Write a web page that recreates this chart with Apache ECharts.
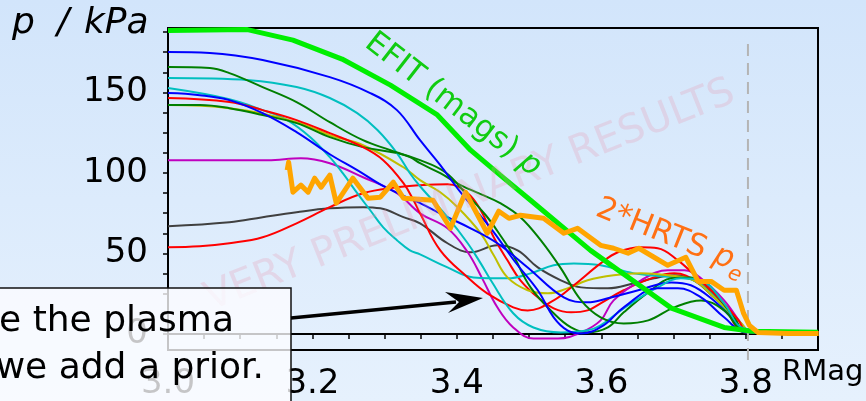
<!DOCTYPE html>
<html lang="en">
<head>
<meta charset="UTF-8">
<title>pressure_profiles</title>
<style>
    html, body { margin: 0; padding: 0; }
    body {
        width: 866px;
        height: 401px;
        overflow: hidden;
        background: linear-gradient(#d2e5fb, #e6f1fd);
    }
    #main { width: 866px; height: 401px; }
</style>
</head>
<body>
<div id="main"></div>
<script src="https://cdn.jsdelivr.net/npm/echarts@6.0.0/dist/echarts.min.js"></script>
<script>
    // axis ticks / labels
    var xTicks = [3.0, 3.05, 3.1, 3.15, 3.2, 3.25, 3.3, 3.35, 3.4, 3.45, 3.5, 3.55, 3.6, 3.65, 3.7, 3.75, 3.8, 3.85]
    var xLabels = [3.0, 3.2, 3.4, 3.6, 3.8]
    var yTicks = [0, 12.5, 25, 37.5, 50, 62.5, 75, 87.5, 100, 112.5, 125, 137.5, 150, 162.5, 175, 187.5]
    var yLabels = [0, 50, 100, 150]
    var separatrix = 3.803

    // EFIT (mags) p  and  2*HRTS pe  (kPa vs RMag)
    var efitP = [[3.0,188.4],[3.11,189.0],[3.173,182.5],[3.241,170.7],[3.308,154.5],[3.373,136.0],[3.419,114.1],[3.46,98.6],[3.502,83.0],[3.585,51.9],[3.697,16.0],[3.77,4.0],[3.808,1.6],[3.9,1.0]]
    var hrtsPe = [[3.165,101.7],[3.167,106.7],[3.173,88.0],[3.184,92.4],[3.194,88.0],[3.203,96.7],[3.212,91.1],[3.224,98.6],[3.233,81.2],[3.256,96.7],[3.277,84.3],[3.294,84.9],[3.312,94.2],[3.326,84.3],[3.367,83.0],[3.391,65.6],[3.412,88.0],[3.442,62.5],[3.458,76.2],[3.472,71.8],[3.488,73.7],[3.52,71.8],[3.548,62.5],[3.567,65.6],[3.599,55.0],[3.617,53.2],[3.637,50.1],[3.652,53.2],[3.673,47.6],[3.692,42.6],[3.717,47.6],[3.734,32.6],[3.752,32.6],[3.77,27.1],[3.787,27.1],[3.797,12.7],[3.805,5.3],[3.817,0.9],[3.859,0.3],[3.901,0.3]]

    // reconstructed profiles
    var blue1 = [[3.0,175.1],[3.058,174.5],[3.131,170.1],[3.224,159.5],[3.28,149.6],[3.317,139.0],[3.349,120.3],[3.377,104.8],[3.405,88.0],[3.447,65.6],[3.481,44.5],[3.512,27.1],[3.534,10.3],[3.553,2.2],[3.572,0.3],[3.603,5.3],[3.631,16.5],[3.678,28.3],[3.706,28.3],[3.738,22.7],[3.77,10.3],[3.801,0.9],[3.9,0.5]]
    var blue2 = [[3.0,149.6],[3.044,148.3],[3.085,145.2],[3.131,137.1],[3.178,125.3],[3.224,111.6],[3.262,101.7],[3.301,91.1],[3.349,81.2],[3.387,72.5],[3.419,65.6],[3.456,56.3],[3.498,41.3],[3.548,22.7],[3.581,19.6],[3.609,22.1],[3.651,27.1],[3.697,32.0],[3.724,30.2],[3.752,22.1],[3.78,10.3],[3.801,1.6],[3.9,0.5]]
    var cyan1 = [[3.0,158.9],[3.113,157.6],[3.178,153.3],[3.224,146.5],[3.262,137.1],[3.29,126.6],[3.317,112.3],[3.335,99.8],[3.349,91.7],[3.387,72.5],[3.415,56.3],[3.433,43.8],[3.447,33.3],[3.478,12.8],[3.506,4.0],[3.544,0.9],[3.581,2.2],[3.599,5.3],[3.631,15.9],[3.678,28.9],[3.71,34.5],[3.738,33.3],[3.77,19.0],[3.798,3.4],[3.9,0.5]]
    var cyan2 = [[3.0,152.7],[3.085,145.8],[3.131,139.0],[3.165,132.8],[3.197,122.2],[3.224,109.8],[3.242,99.8],[3.262,87.4],[3.28,76.8],[3.298,66.2],[3.317,58.2],[3.335,51.9],[3.349,49.4],[3.387,41.3],[3.423,35.1],[3.47,34.5],[3.502,37.6],[3.534,42.6],[3.562,43.8],[3.599,42.6],[3.645,37.6],[3.701,35.1],[3.724,33.9],[3.752,25.2],[3.784,8.4],[3.803,0.9],[3.9,0.5]]
    var green1 = [[3.0,165.7],[3.058,165.1],[3.085,162.0],[3.131,153.3],[3.178,144.0],[3.224,131.5],[3.27,120.3],[3.308,114.1],[3.335,109.8],[3.349,106.0],[3.377,99.8],[3.405,92.4],[3.433,86.8],[3.46,81.2],[3.488,72.5],[3.516,58.2],[3.544,40.7],[3.572,20.8],[3.599,10.3],[3.631,6.5],[3.665,8.4],[3.701,16.5],[3.738,20.8],[3.77,14.6],[3.798,2.2],[3.9,0.5]]
    var green2 = [[3.0,142.1],[3.044,142.1],[3.085,140.2],[3.131,135.9],[3.178,130.9],[3.224,122.2],[3.27,116.0],[3.317,112.3],[3.349,107.9],[3.384,100.4],[3.412,87.4],[3.44,73.7],[3.46,61.3],[3.478,48.8],[3.502,28.9],[3.534,12.8],[3.558,4.0],[3.581,0.9],[3.609,4.0],[3.631,13.4],[3.665,25.8],[3.697,34.5],[3.724,35.1],[3.752,27.1],[3.784,10.3],[3.801,0.9],[3.9,0.5]]
    var olive1 = [[3.0,142.1],[3.085,140.2],[3.178,131.5],[3.224,123.4],[3.27,117.2],[3.326,103.5],[3.349,95.5],[3.377,88.0],[3.401,78.7],[3.433,62.5],[3.451,48.8],[3.47,35.1],[3.498,27.1],[3.526,25.2],[3.553,28.3],[3.581,33.3],[3.617,36.4],[3.655,37.6],[3.692,36.4],[3.728,33.3],[3.756,22.7],[3.794,6.5],[3.808,0.9],[3.9,0.5]]
    var red1 = [[3.0,146.5],[3.085,144.0],[3.131,139.0],[3.178,132.8],[3.224,124.7],[3.27,116.0],[3.298,107.9],[3.326,93.6],[3.34,83.0],[3.349,74.9],[3.377,51.9],[3.415,35.1],[3.442,25.2],[3.478,16.5],[3.498,14.6],[3.534,20.8],[3.562,30.2],[3.599,43.8],[3.623,50.7],[3.655,53.8],[3.678,53.2],[3.706,45.7],[3.734,34.5],[3.762,22.7],[3.79,8.4],[3.803,0.9],[3.9,0.5]]
    var red2 = [[3.0,53.8],[3.044,54.4],[3.085,56.3],[3.131,60.0],[3.178,68.7],[3.224,78.7],[3.27,87.4],[3.317,91.1],[3.349,92.4],[3.387,93.0],[3.415,87.4],[3.433,76.8],[3.451,60.0],[3.47,45.7],[3.488,33.3],[3.512,22.7],[3.534,15.9],[3.558,13.4],[3.581,14.6],[3.599,19.0],[3.631,27.1],[3.669,34.5],[3.701,37.6],[3.734,32.0],[3.766,19.6],[3.801,0.9],[3.9,0.5]]
    var magenta1 = [[3.0,107.9],[3.138,107.9],[3.184,109.1],[3.224,106.0],[3.27,97.3],[3.317,87.4],[3.349,74.9],[3.387,65.6],[3.415,50.7],[3.435,34.5],[3.456,16.5],[3.478,4.0],[3.506,-2.8],[3.54,-2.8],[3.572,0.9],[3.599,8.4],[3.617,20.8],[3.655,33.3],[3.692,39.5],[3.715,39.5],[3.738,34.5],[3.77,20.8],[3.798,4.0],[3.808,0.9],[3.9,0.5]]
    var grey1 = [[3.0,66.9],[3.085,69.3],[3.131,72.5],[3.178,75.6],[3.224,78.0],[3.27,78.7],[3.294,78.0],[3.326,72.5],[3.349,68.7],[3.387,56.3],[3.419,50.7],[3.456,55.0],[3.484,51.9],[3.512,41.3],[3.544,33.3],[3.572,28.9],[3.609,28.3],[3.645,31.4],[3.673,34.5],[3.701,36.4],[3.728,33.3],[3.756,22.7],[3.79,8.4],[3.805,0.9],[3.9,0.5]]

    var font = '"DejaVu Sans", sans-serif'

    function thin(data, color) {
        return {
            type: 'line',
            data: data,
            smooth: 0.4,
            symbol: 'none',
            silent: true,
            lineStyle: { width: 2, color: color }
        }
    }

    var main = echarts.init(document.getElementById('main'))
    var option = {
        animation: false,
        backgroundColor: 'transparent',
        grid: {
            left: 168, right: 48, top: 28, bottom: 51,
            show: true, borderColor: '#000', borderWidth: 2
        },
        xAxis: {
            type: 'value', min: 3.0, max: 3.9,
            axisLine: { lineStyle: { color: '#000', width: 2 } },
            axisTick: { customValues: xTicks, length: 5, lineStyle: { color: '#000', width: 1.5 } },
            axisLabel: {
                customValues: xLabels, margin: 17,
                fontSize: 34, fontFamily: font, color: '#000',
                formatter: function (v) { return v.toFixed(1) }
            },
            splitLine: { show: false }
        },
        yAxis: {
            type: 'value', min: -10, max: 190,
            axisLine: { show: true, lineStyle: { color: '#000', width: 2 } },
            axisTick: { show: true, customValues: yTicks, length: 5, lineStyle: { color: '#000', width: 1.5 } },
            axisLabel: { customValues: yLabels, margin: 20, fontSize: 34, fontFamily: font, color: '#000' },
            splitLine: { show: false }
        },
        series: [
            thin(grey1, '#404040'),
            thin(red2, '#ff0000'),
            thin(magenta1, '#bf00bf'),
            thin(cyan2, '#00bfbf'),
            thin(olive1, '#bfbf00'),
            thin(green2, '#007f00'),
            thin(red1, '#ff0000'),
            thin(blue2, '#0000ff'),
            thin(cyan1, '#00bfbf'),
            thin(green1, '#007f00'),
            thin(blue1, '#0000ff'),
            {
                type: 'line', data: [[separatrix, 180], [separatrix, -18]],
                clip: false, symbol: 'none', silent: true,
                lineStyle: { type: [12, 7], color: '#b4b4b4', width: 2 }
            },
            {
                type: 'line', data: efitP, symbol: 'none', silent: true,
                lineStyle: { width: 5, color: '#00ee00' }
            },
            {
                type: 'line', data: hrtsPe, symbol: 'none', silent: true,
                lineStyle: { width: 5, color: '#ffa500', join: 'round' }
            }
        ],
        graphic: [
            {
                type: 'text', x: 470, y: 196, rotation: 0.379, z: 50, silent: true,
                style: { text: 'VERY PRELIMINARY RESULTS', fill: 'rgba(232,150,172,0.26)', fontSize: 40, fontFamily: font, align: 'center', verticalAlign: 'middle' }
            },
            {
                type: 'text', x: 453, y: 105, rotation: -0.66, z: 60, silent: true,
                style: {
                    text: 'EFIT (mags) {i|p}', fill: '#11cc11', fontSize: 31, fontFamily: font, align: 'center', verticalAlign: 'middle',
                    rich: { i: { fill: '#11cc11', fontSize: 31, fontFamily: font, fontStyle: 'italic' } }
                }
            },
            {
                type: 'text', x: 671, y: 237, rotation: -0.38, z: 60, silent: true,
                style: {
                    text: '2*HRTS {i|p}{s|e}', fill: '#ff7014', fontSize: 31, fontFamily: font, align: 'center', verticalAlign: 'middle',
                    rich: {
                        i: { fill: '#ff7014', fontSize: 31, fontFamily: font, fontStyle: 'italic' },
                        s: { fill: '#ff7014', fontSize: 21, fontFamily: font, fontStyle: 'italic', verticalAlign: 'bottom', lineHeight: 44 }
                    }
                }
            },
            { type: 'text', x: 12, y: 24, z: 60, silent: true,
              style: { text: 'p', fill: '#000', fontSize: 36, fontFamily: font, fontStyle: 'italic', verticalAlign: 'middle' } },
            { type: 'text', x: 57, y: 24, z: 60, silent: true,
              style: { text: '/', fill: '#000', fontSize: 36, fontFamily: font, fontStyle: 'italic', verticalAlign: 'middle' } },
            { type: 'text', x: 84, y: 24, z: 60, silent: true,
              style: { text: 'kPa', fill: '#000', fontSize: 36, fontFamily: font, fontStyle: 'italic', verticalAlign: 'middle' } },
            { type: 'text', x: 782, y: 358, z: 60, silent: true,
              style: { text: 'RMag', fill: '#000', fontSize: 29, fontFamily: font, verticalAlign: 'top' } },
            // callout box and arrow
            { type: 'rect', z: 100, silent: true,
              shape: { x: -6, y: 288, width: 297, height: 130 },
              style: { fill: 'rgba(252,253,255,0.78)', stroke: '#111', lineWidth: 1.5 } },
            { type: 'text', x: 234, y: 322, z: 101, silent: true,
              style: { text: 'e the plasma', fill: '#000', fontSize: 36, fontFamily: font, align: 'right', verticalAlign: 'middle' } },
            { type: 'text', x: 264, y: 369, z: 101, silent: true,
              style: { text: 'we add a prior.', fill: '#000', fontSize: 36, fontFamily: font, align: 'right', verticalAlign: 'middle' } },
            { type: 'polyline', z: 101, silent: true,
              shape: { points: [[291, 318], [456, 302]] },
              style: { stroke: '#000', lineWidth: 3.5 } },
            { type: 'polygon', z: 101, silent: true,
              shape: { points: [[483, 298], [445, 292], [459, 302], [448, 313]] },
              style: { fill: '#000' } }
        ]
    }
    main.setOption(option)
</script>
</body>
</html>
